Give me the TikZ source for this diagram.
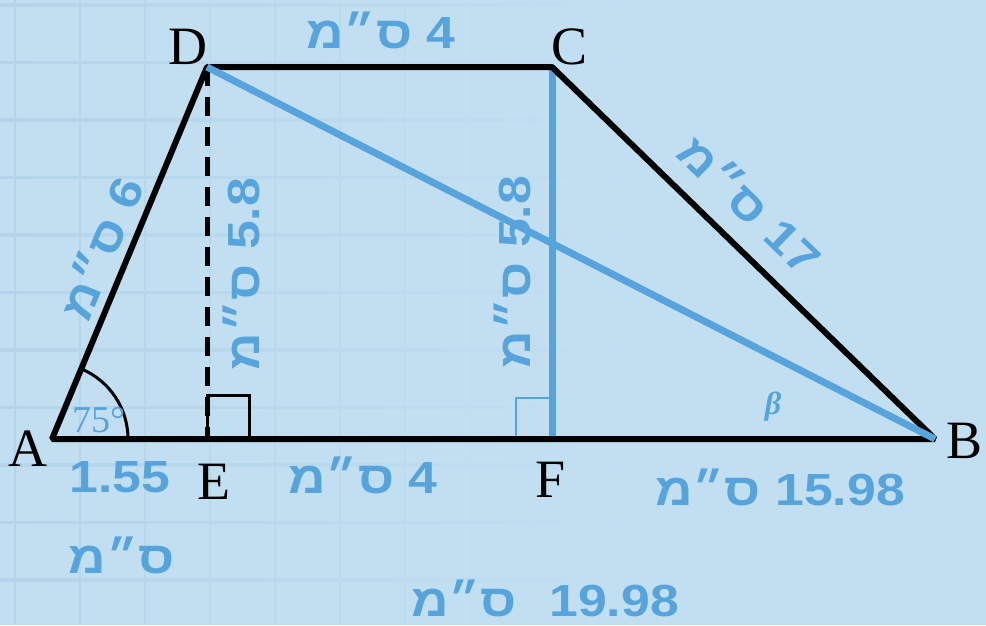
\documentclass[tikz,border=0pt]{standalone}
\usepackage{fontspec}
\setmainfont{Liberation Serif}
\newfontfamily\heb[Script=Hebrew, FakeStretch=1.15]{Liberation Sans}
\TeXXeTstate=1
\definecolor{bgc}{HTML}{C1DFF1}
\definecolor{gridc}{HTML}{B3D4EA}
\definecolor{lblue}{HTML}{57A4DC}
\newcommand\hcm[1]{\heb\bfseries\beginR\beginL #1\endL{} ס״מ\endR}
\tikzset{
 blk/.style={line width=6pt, black},
 bl/.style={line width=7pt, lblue},
 pt/.style={font=\fontsize{54}{60}\selectfont, inner sep=0pt, text=black},
 meas/.style={font=\fontsize{45}{50}\selectfont, inner sep=0pt, text=lblue},
}
\begin{document}
\begin{tikzpicture}[x=1pt,y=-1pt]
\fill[bgc] (0,0) rectangle (986,625);
\useasboundingbox (0,0) rectangle (986,625);
% faint grid fading to the right
\foreach \x in {15,80,...,600} {
  \pgfmathtruncatemacro\p{max(0,100-\x/6)}
  \draw[gridc!\p!bgc, line width=2.5pt] (\x,0) -- (\x,625);
}
\foreach \y in {5,62.5,...,625} {
  \shade[left color=gridc, right color=bgc] (0,\y-1.25) rectangle (650,\y+1.25);
}
% points
\coordinate (A) at (52,439);
\coordinate (B) at (935,439);
\coordinate (C) at (552,67);
\coordinate (D) at (207,67);
\coordinate (E) at (207,439);
\coordinate (F) at (552,439);
% blue height CF
\draw[bl] (C) -- (F);
\draw[lblue, line width=2pt] (F) rectangle ++(-36,-41);
% trapezoid
\draw[blk, line join=bevel] (A) -- (B) -- (C) -- (D) -- cycle;
\draw[line width=5pt, dash pattern=on 19pt off 11pt] (D) -- (E);
\draw[line width=3pt] (E) rectangle ++(42,-44);
\draw[line width=3pt] (A) ++(76,0) arc[start angle=0, end angle=-67.4, radius=76];
% diagonal
\draw[bl] (D) -- (B);
% vertex labels
\node[pt] (lA) at (28,449) {A};
\node[pt] (lB) at (965,441) {B};
\node[pt] (lC) at (570,47) {C};
\node[pt] (lD) at (188,47) {D};
\node[pt] (lE) at (214,482) {E};
\node[pt] (lF) at (551,480) {F};
% measures
\node[meas] (m1) at (381,30) {\hcm{4}};
\node[meas] (m2) at (363,475) {\hcm{4}};
\node[meas] (m3) at (780,487) {\hcm{15.98}};
\node[meas] (m4) at (120,477) {\heb\bfseries 1.55};
\node[meas] (m5) at (122,555) {\heb\bfseries\beginR ס״מ\endR};
\node[meas] (m6) at (545,598) {\heb\bfseries\beginR\beginL 19.98\endL{}\hspace{0.4em} ס״מ\endR};
\node[meas, rotate=67.4] (m7) at (100,248) {\hcm{6}};
\node[meas, rotate=90] (m8) at (241,274) {\hcm{5.8}};
\node[meas, rotate=90] (m9) at (512,272) {\hcm{5.8}};
\node[meas, rotate=-43.9] (m10) at (751,204) {\hcm{17}};
\node[text=lblue, font=\fontsize{38}{42}\selectfont, inner sep=0pt] (ang) at (99,420) {75°};
\node[text=lblue, font=\fontsize{32}{36}\selectfont\bfseries\itshape, inner sep=0pt] (beta) at (773,407) {β};
\end{tikzpicture}
\end{document}
